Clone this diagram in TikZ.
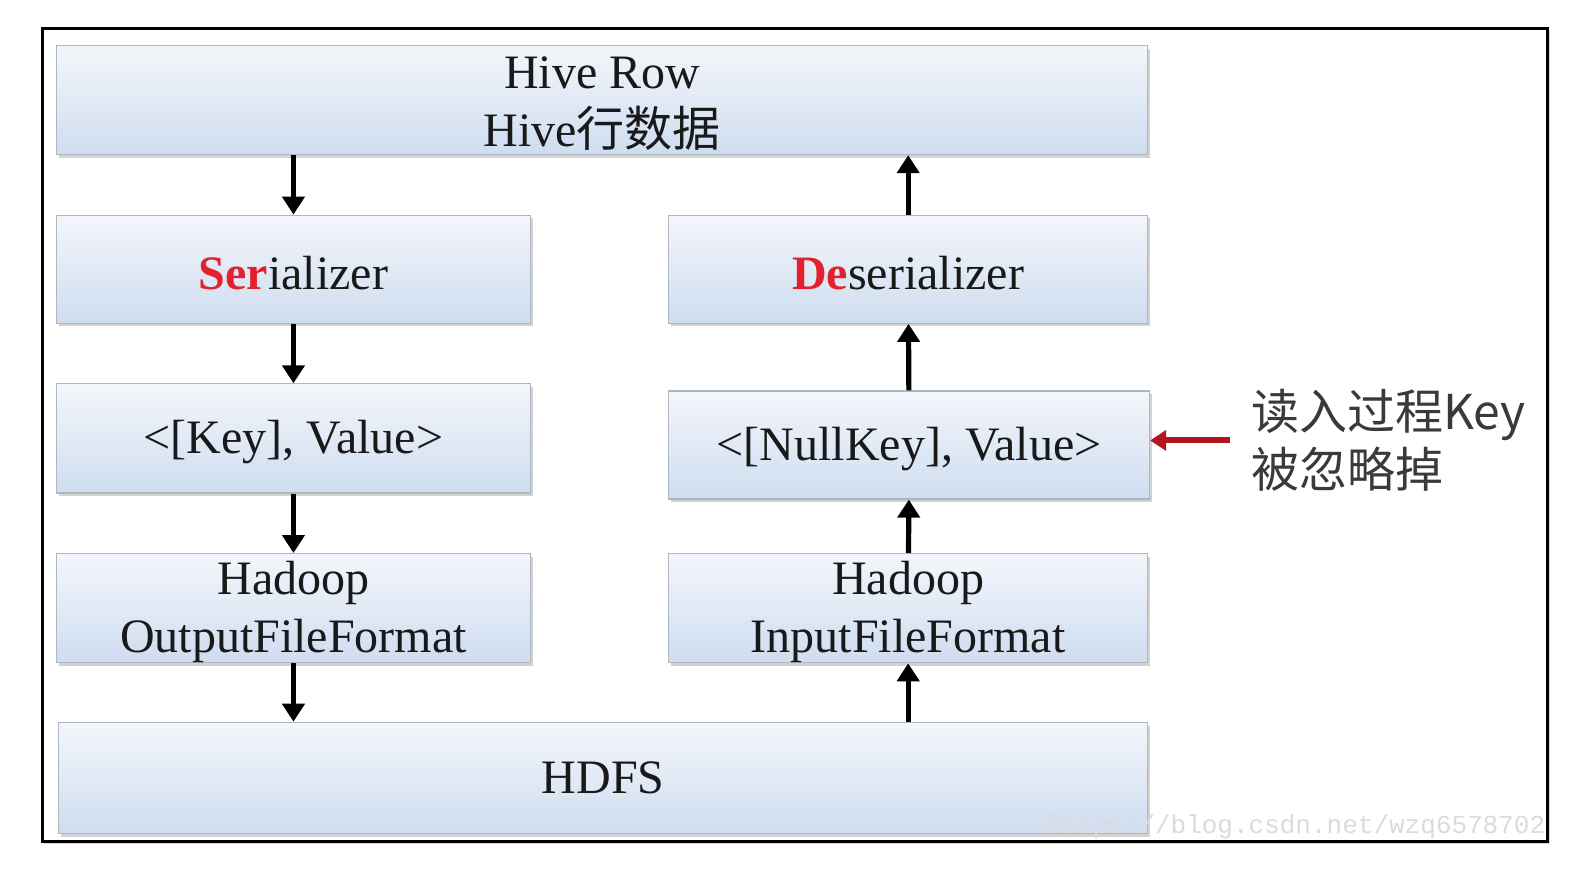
\documentclass[tikz,border=0pt]{standalone}
\usepackage{fontspec}
\setmainfont{Liberation Serif}
\newfontfamily\cjk{Noto Sans CJK SC}
\newfontfamily\markfont{Liberation Mono}
\usepackage{xcolor}
\usepackage{tikz}
\usetikzlibrary{positioning}
\usetikzlibrary{arrows.meta,shadows}
\definecolor{boxtop}{HTML}{F3F6FB}
\definecolor{boxbot}{HTML}{CFDDF0}
\definecolor{boxline}{HTML}{AEB6C0}
\definecolor{keyred}{HTML}{E3202B}
\definecolor{notered}{HTML}{B5141C}
\definecolor{notegray}{HTML}{3A3A3A}
\def\pxu{0.505pt}
\newcommand{\lowr}[1]{\raisebox{-2pt}[\height][\depth]{#1}}
\tikzset{
  layer/.style={draw=boxline, line width=0.6pt, top color=boxtop, bottom color=boxbot,
    drop shadow={shadow xshift=1.2pt, shadow yshift=-1.6pt, opacity=0.35},
    inner sep=0pt, align=center, text=black!90,
    font=\fontsize{24}{29}\selectfont, minimum height=108*\pxu},
  flow/.style={->, line width=2.6pt},
  note/.style={align=left, text=notegray, font=\cjk\fontsize{24}{29}\selectfont, inner sep=0pt}
}

\begin{document}
\begin{tikzpicture}[x=\pxu,y=-\pxu,>={Triangle[width=11pt,length=9pt]}]
  \useasboundingbox (0,0) rectangle (1568,871);
  % outer frame
  \draw[line width=1.3pt, drop shadow={shadow xshift=1pt, shadow yshift=-1pt, opacity=0.3}, fill=white] (42,28) rectangle (1532,833);

  \node[layer, minimum width=1080*\pxu] (hive) at (596,99) {\lowr{Hive Row}\\\lowr{Hive{\cjk 行数据}}};
  \node[layer, minimum width=469*\pxu, minimum height=107*\pxu] (ser) at (290.5,266.5) {\lowr{\textcolor{keyred}{\textbf{Ser}}ializer}};
  \node[layer, minimum width=474*\pxu, minimum height=107*\pxu] (deser) at (899,266.5) {\lowr{\textcolor{keyred}{\textbf{De}}serializer}};
  \node[layer, minimum width=469*\pxu] (kv) at (290.5,434) {\lowr{<[Key], Value>}};
  \node[layer, minimum width=476*\pxu, minimum height=107*\pxu] (nkv) at (900,440.5) {\lowr{<[NullKey], Value>}};
  \node[layer, minimum width=469*\pxu] (hout) at (290.5,602) {\lowr{Hadoop}\\\lowr{OutputFileFormat}};
  \node[layer, minimum width=474*\pxu] (hin) at (899,602) {\lowr{Hadoop}\\\lowr{InputFileFormat}};
  \node[layer, minimum width=1078*\pxu, minimum height=110*\pxu] (hdfs) at (597,770) {HDFS};

  % write path
  \draw[flow] (ser.north |- hive.south) -- (ser.north);
  \draw[flow] (ser) -- (kv);
  \draw[flow] (kv) -- (hout);
  \draw[flow] (hout.south) -- (hout.south |- hdfs.north);
  % read path
  \draw[flow] (hin.south |- hdfs.north) -- (hin.south);
  \draw[flow] (hin) -- (nkv);
  \draw[flow] (nkv) -- (deser);
  \draw[flow] (deser.north) -- (deser.north |- hive.south);

  \node[note, anchor=west] (skip) at (1238,436) {读入过程Key\\被忽略掉};
  \draw[->, notered, line width=3pt, >={Triangle[width=10pt,length=8pt]}, shorten <=20*\pxu]
    (skip.west) -- (skip.west -| nkv.east);

  \node[anchor=east, text=black!14, font=\markfont\fontsize{13}{13}\selectfont, inner sep=0pt] (mark) at (1530,818) {https://blog.csdn.net/wzq6578702};
\end{tikzpicture}
\end{document}
